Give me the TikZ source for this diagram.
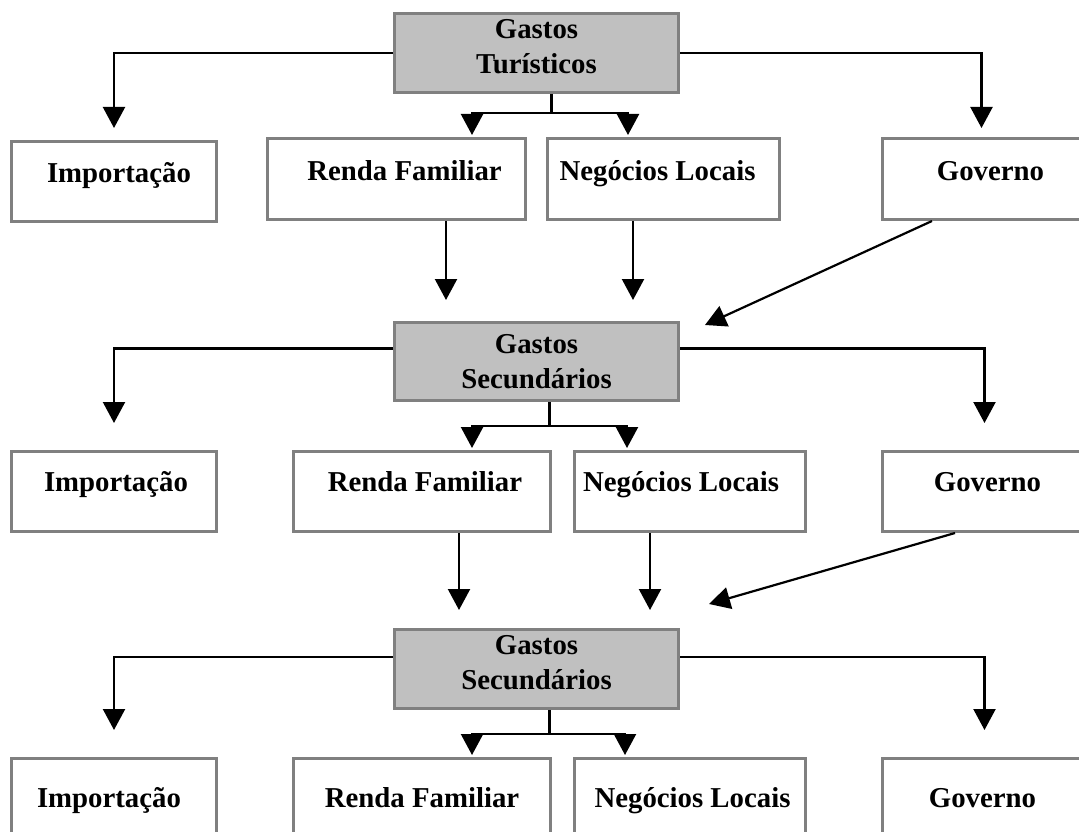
\documentclass[tikz,border=0pt]{standalone}
\usepackage{fontspec}
\setmainfont{Liberation Serif}
\usetikzlibrary{arrows.meta}
\definecolor{boxgray}{HTML}{808080}
\definecolor{headfill}{HTML}{C0C0C0}
\newcommand{\twolines}[2]{\begin{tabular}[t]{@{}c@{}}#1\\#2\end{tabular}}
\begin{document}
\begin{tikzpicture}[x=1pt,y=-1pt,
  box/.style={draw=boxgray, line width=3pt, fill=white, inner sep=0pt, anchor=north west,
    font=\fontsize{28.8}{35}\selectfont\bfseries},
  head/.style={box, fill=headfill, minimum width=284pt},
  conn/.style={draw=black, line width=2.2pt},
  arr/.style={conn, -{Triangle[width=22pt,length=21pt]}}]
\useasboundingbox (0,0) rectangle (1079,832);
\fill[white] (0,0) rectangle (1079,832);
\clip (0,0) rectangle (1079,832);

% ---- level 1
\node[head, text height=25pt, text depth=54pt] (g1) at (393,12) {\twolines{Gastos}{Turísticos}};
\node[box, minimum width=205pt, text height=41pt, text depth=39pt] (imp1) at (10,140) {\hspace*{10pt}Importação};
\node[box, minimum width=258pt, text height=42pt, text depth=39pt] (ren1) at (266,137) {\hspace*{16pt}Renda Familiar};
\node[box, minimum width=232pt, text height=42pt, text depth=39pt] (neg1) at (546,137) {\hspace*{-12pt}Negócios Locais};
\node[box, minimum width=210pt, text height=42pt, text depth=39pt] (gov1) at (881,137) {\hspace*{6pt}Governo};

% ---- level 2
\node[head, text height=31pt, text depth=47pt] (g2) at (393,321) {\twolines{Gastos}{Secundários}};
\node[box, minimum width=205pt, text height=40pt, text depth=40pt] (imp2) at (10,450) {\hspace*{4pt}Importação};
\node[box, minimum width=257pt, text height=40pt, text depth=40pt] (ren2) at (292,450) {\hspace*{6pt}Renda Familiar};
\node[box, minimum width=231pt, text height=40pt, text depth=40pt] (neg2) at (573,450) {\hspace*{-18pt}Negócios Locais};
\node[box, minimum width=210pt, text height=40pt, text depth=40pt] (gov2) at (881,450) {Governo};

% ---- level 3
\node[head, text height=25pt, text depth=54pt] (g3) at (393,628) {\twolines{Gastos}{Secundários}};
\node[box, minimum width=205pt, text height=49pt, text depth=51pt] (imp3) at (10,757) {\hspace*{-10pt}Importação};
\node[box, minimum width=257pt, text height=49pt, text depth=51pt] (ren3) at (292,757) {Renda Familiar};
\node[box, minimum width=231pt, text height=49pt, text depth=51pt] (neg3) at (573,757) {\hspace*{5pt}Negócios Locais};
\node[box, minimum width=210pt, text height=49pt, text depth=51pt] (gov3) at (881,757) {\hspace*{-10pt}Governo};

% ---- connectors level 1
\draw[arr] (g1.west) -| ([yshift=12pt]imp1.north);
\draw[arr] (g1.east) -| ([xshift=-6pt,yshift=9pt]gov1.north);
\draw[conn] ([xshift=15pt]g1.south) -- ++(0,19) coordinate (f1);
\draw[arr] (f1) -| ([xshift=206pt,yshift=2pt]ren1.north west);
\draw[arr] (f1) -| ([xshift=82pt,yshift=2pt]neg1.north west);
\coordinate (v1) at (446,0);
\coordinate (v2) at (633,0);
\coordinate (d1) at (932,0);
\draw[arr, shorten >=21pt] (ren1.south -| v1) -- (g2.north -| v1);
\draw[arr, shorten >=21pt] (neg1.south -| v2) -- (g2.north -| v2);
\draw[arr] (gov1.south -| d1) -- ([xshift=25pt,yshift=-4pt]g2.north east);

% ---- connectors level 2
\draw[arr] ([yshift=13pt]g2.west) -| ([yshift=27pt]imp2.north);
\draw[arr] ([yshift=13pt]g2.east) -| ([xshift=-3pt,yshift=27pt]gov2.north);
\draw[conn] ([xshift=13pt]g2.south) -- ++(0,24) coordinate (f2);
\draw[arr] (f2) -| ([xshift=180pt,yshift=2pt]ren2.north west);
\draw[arr] (f2) -| ([xshift=54pt,yshift=2pt]neg2.north west);
\coordinate (v3) at (459,0);
\coordinate (v4) at (650,0);
\coordinate (d2) at (955,0);
\draw[arr, shorten >=18pt] (ren2.south -| v3) -- (g3.north -| v3);
\draw[arr, shorten >=18pt] (neg2.south -| v4) -- (g3.north -| v4);
\draw[arr] (gov2.south -| d2) -- ([xshift=29pt,yshift=24pt]g3.north east);

% ---- connectors level 3
\draw[arr] ([yshift=12pt]g3.west) -| ([yshift=27pt]imp3.north);
\draw[arr] ([yshift=12pt]g3.east) -| ([xshift=-3pt,yshift=27pt]gov3.north);
\draw[conn] ([xshift=13pt]g3.south) -- ++(0,24) coordinate (f3);
\draw[arr] (f3) -| ([xshift=180pt,yshift=2pt]ren3.north west);
\draw[arr] (f3) -| ([xshift=52pt,yshift=2pt]neg3.north west);
\end{tikzpicture}
\end{document}
